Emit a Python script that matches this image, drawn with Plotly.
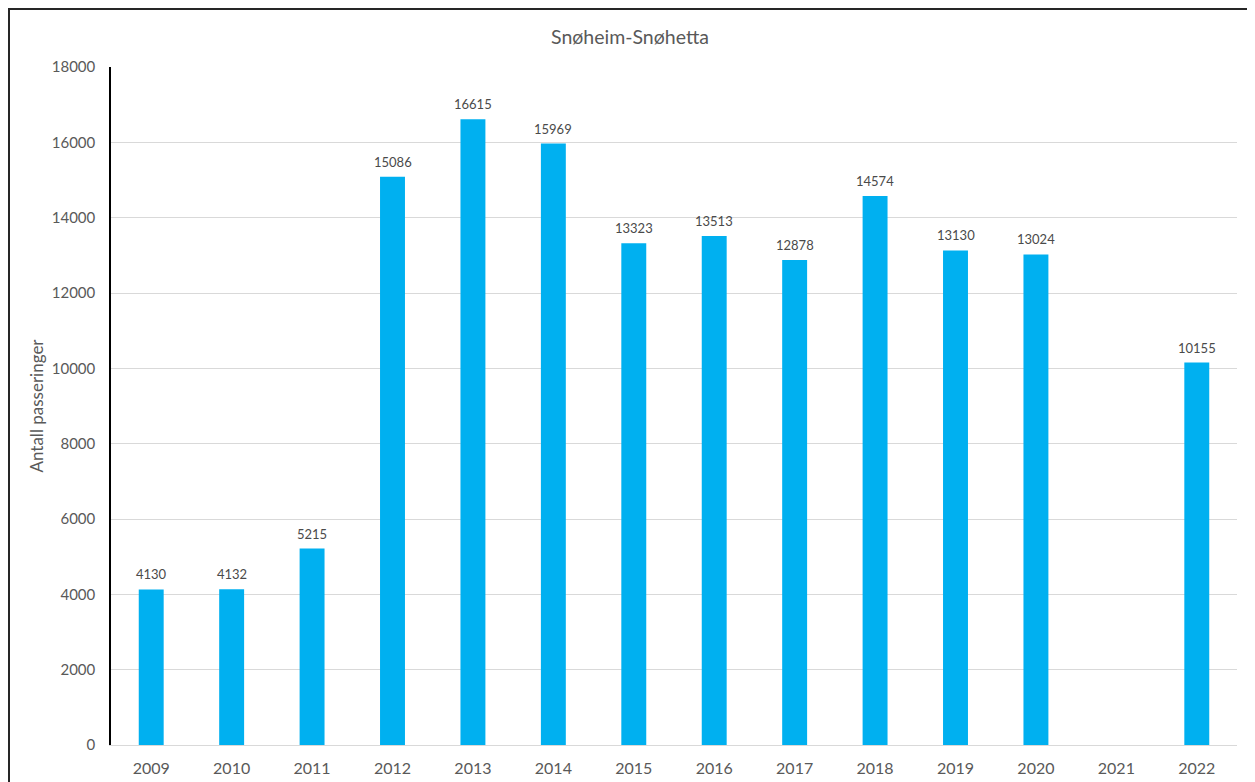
import plotly.graph_objects as go

years = ["2009", "2010", "2011", "2012", "2013", "2014", "2015", "2016",
         "2017", "2018", "2019", "2020", "2021", "2022"]
passages = [4130, 4132, 5215, 15086, 16615, 15969, 13323, 13513,
            12878, 14574, 13130, 13024, None, 10155]
y_ticks = [0, 2000, 4000, 6000, 8000, 10000, 12000, 14000, 16000, 18000]

# page body has an 8px margin; figure sized to fill the rest of the window
OFF = 8
W, H = 1255 - OFF, 782 - OFF
L, R, T, B = 111 - OFF, 18, 67 - OFF, 37
pw, ph = W - L - R, H - T - B

def px_x(p):
    return (p - L) / pw

def px_y(p):
    return (H - B - p) / ph

FONT = "Lato, Open Sans, sans-serif"

fig = go.Figure(go.Bar(
    x=years, y=passages,
    marker=dict(color="#00B0F0", line=dict(width=0)),
    cliponaxis=False,
))

# value labels above each bar (category axis: position by category index)
for i, v in enumerate(passages):
    if v is None:
        continue
    fig.add_annotation(x=i, y=v, xref="x", yref="y", text=str(v), showarrow=False,
                       xanchor="center", yanchor="middle", yshift=15,
                       font=dict(size=13, color="#4a4a4a", family=FONT))

fig.update_layout(
    width=W, height=H,
    margin=dict(l=L, r=R, t=T, b=B, autoexpand=False),
    paper_bgcolor="white", plot_bgcolor="white",
    bargap=0.69,
    showlegend=False,
    font=dict(family=FONT, color="#595959", size=14),
    title=dict(text="Snøheim-Snøhetta", x=(630 - OFF) / W, xref="container", xanchor="center",
               y=1 - (37 - OFF) / H, yref="container", yanchor="middle",
               font=dict(size=19.5, color="#595959", family=FONT)),
    xaxis=dict(type="category", categoryorder="array", categoryarray=years,
               range=[-0.5, len(years) - 0.5],
               showgrid=False, showline=True, linecolor="#D9D9D9",
               linewidth=1, ticks="outside", ticklen=9, tickcolor="rgba(0,0,0,0)",
               tickfont=dict(size=16, color="#595959")),
    yaxis=dict(range=[0, 18000], tickvals=y_ticks, tickformat="d", showgrid=True,
               gridcolor="#D9D9D9", gridwidth=1, zeroline=False, showline=True,
               linecolor="#000000", linewidth=1.5,
               ticks="outside", ticklen=11, tickcolor="rgba(0,0,0,0)",
               tickfont=dict(size=15, color="#595959"),
               title=dict(text="Antall passeringer", standoff=4,
                          font=dict(size=17, color="#595959"))),
    shapes=[dict(type="rect", xref="paper", yref="paper",
                 x0=px_x(1), x1=px_x(1243), y0=px_y(H + 20), y1=px_y(1),
                 line=dict(color="#262626", width=2), fillcolor="rgba(0,0,0,0)", layer="above")],
)

fig.write_html("out.html")
